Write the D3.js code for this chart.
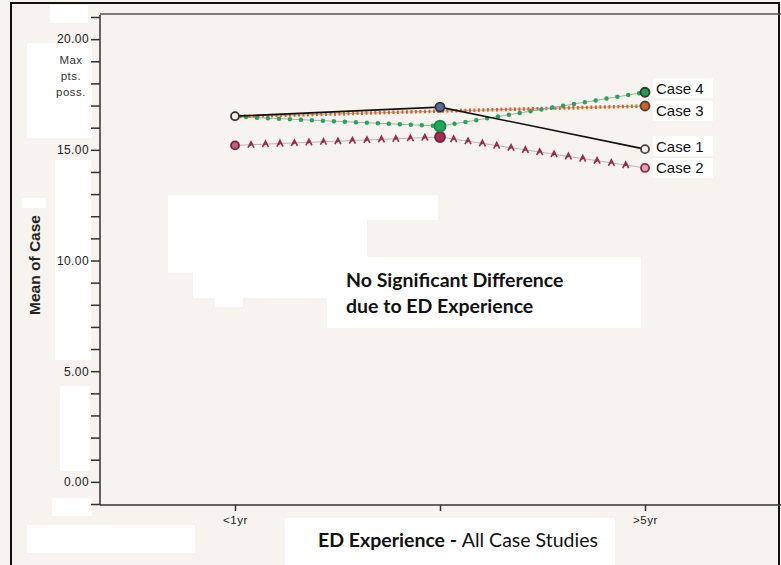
<!DOCTYPE html>
<html><head><meta charset="utf-8">
<script src="https://cdn.jsdelivr.net/npm/d3@7"></script>
<style>body{margin:0;background:#fff}svg{display:block}</style>
</head><body>
<svg id="c" width="781" height="565"></svg>
<script>
const categories = ["<1yr", "1-5yr", ">5yr"];
const tickLabels = ["<1yr", "", ">5yr"];
const seriesNames = ["Case 1", "Case 2", "Case 3", "Case 4"];
const case1 = [16.52, 16.93, 15.03];
const case2 = [15.2, 15.58, 14.18];
const case3 = [16.5, 16.75, 16.98];
const case4 = [16.5, 16.07, 17.6];
const yMajor = [0, 5, 10, 15, 20];

const svg = d3.select("#c");
svg.append("rect").attr("width",781).attr("height",565).attr("fill","#f7f3ee");

// white patches on the scanned page
const patches = [[50,5,38,18],[27,43,65,95],[55,160,36,200],[22,198,24,10],[58,340,32,18],[60,386,30,85],[52,498,40,18],[27,525,168,28],
  [168,195,270,25],[168,195,199,78],[193,273,134,25],[215,298,28,9]];
svg.selectAll("rect.patch").data(patches).join("rect").attr("class","patch")
  .attr("x",d=>d[0]).attr("y",d=>d[1]).attr("width",d=>d[2]).attr("height",d=>d[3]).attr("fill","#ffffff");

// outer frame
svg.append("rect").attr("x",11).attr("y",3).attr("width",768).attr("height",570)
  .attr("fill","none").attr("stroke","#111").attr("stroke-width",2);

const x = d3.scalePoint().domain(categories).range([235, 645]);
const y = d3.scaleLinear().domain([-1, 21]).range([504, 17]);

const font = "Liberation Sans, Arial, sans-serif";

// plot frame top line
svg.append("line").attr("x1",100).attr("x2",781).attr("y1",14).attr("y2",14).attr("stroke","#555").attr("stroke-width",1.5);

const yAxis = d3.axisLeft(y).tickValues(d3.range(-1, 22, 1)).tickSize(9)
  .tickFormat(d => yMajor.includes(d) ? d.toFixed(2) : "");
const gy = svg.append("g").attr("transform","translate(100,0)").call(yAxis);
gy.select(".domain").attr("d","M0,15V505").attr("stroke","#333").attr("stroke-width",1.5);
gy.selectAll(".tick line").attr("stroke","#333").attr("stroke-width",1.5);
gy.selectAll(".tick text").attr("font-family",font).attr("font-size",12).attr("letter-spacing",0.4).attr("fill","#222").attr("x",-11);

const xAxis = d3.axisBottom(x).tickSize(6).tickFormat((d,i)=>tickLabels[i]);
const gx = svg.append("g").attr("transform","translate(0,505)").call(xAxis);
gx.select(".domain").attr("d","M100,0H781").attr("stroke","#333").attr("stroke-width",1.5);
gx.selectAll(".tick line").attr("stroke","#333").attr("stroke-width",1.5);
gx.selectAll(".tick text").attr("font-family",font).attr("font-size",11.5).attr("letter-spacing",0.6).attr("fill","#222").attr("dy","0.85em");

// Max pts. poss.
const mp = svg.append("text").attr("font-family",font).attr("font-size",11.5).attr("letter-spacing",0.5).attr("fill","#333").attr("text-anchor","middle");
[["Max",64],["pts.",80],["poss.",96]].forEach(([t,yy])=>mp.append("tspan").attr("x",71).attr("y",yy).text(t));

// y title
svg.append("text").attr("transform","translate(40,265) rotate(-90)").attr("text-anchor","middle")
  .attr("font-family",font).attr("font-weight","bold").attr("font-size",15.5).attr("fill","#222").text("Mean of Case");

const line = d3.line().x((d,i)=>x(categories[i])).y(d=>y(d));

// Case 3 orange dashes
svg.append("path").attr("d",line(case3)).attr("fill","none").attr("stroke","#999").attr("stroke-width",0.8);
svg.append("path").attr("d",line(case3)).attr("fill","none").attr("stroke","#e0601e").attr("stroke-width",3.5).attr("stroke-dasharray","2 2.5");
// Case 4 green dots
svg.append("path").attr("d",line(case4)).attr("fill","none").attr("stroke","#999").attr("stroke-width",0.8);
svg.append("path").attr("d",line(case4)).attr("fill","none").attr("stroke","#1fa85a").attr("stroke-width",4.5).attr("stroke-linecap","round").attr("stroke-dasharray","0 11");
// Case 2 maroon crosses
svg.append("path").attr("d",line(case2)).attr("fill","none").attr("stroke","#aaa").attr("stroke-width",0.8);
const p2 = svg.append("path").attr("d",line(case2)).attr("fill","none").attr("stroke","none");
const node = p2.node(), L = node.getTotalLength();
const crossPos = d3.range(16, L-8, 14.5);
svg.selectAll("path.x2").data(crossPos).join("path").attr("class","x2")
  .attr("transform",d=>{const p=node.getPointAtLength(d);return `translate(${p.x},${p.y})`;})
  .attr("d","M-3,3L0,-3L3,3M-2,1L2,-1").attr("fill","none").attr("stroke","#9a2a4a").attr("stroke-width",1.6);
// Case 1 black solid
svg.append("path").attr("d",line(case1)).attr("fill","none").attr("stroke","#111").attr("stroke-width",1.6);

// markers
const markers = [
  {s:case1,i:0,fill:"#f4f0ee",stroke:"#333",r:4},
  {s:case1,i:1,fill:"#5a6a9a",stroke:"#333",r:4.5},
  {s:case1,i:2,fill:"#f4f0ee",stroke:"#444",r:4},
  {s:case2,i:0,fill:"#c06080",stroke:"#7a2040",r:4},
  {s:case2,i:1,fill:"#a03050",stroke:"#7a2040",r:5},
  {s:case2,i:2,fill:"#e0a0b0",stroke:"#8a2a4a",r:4},
  {s:case3,i:2,fill:"#d0602a",stroke:"#444",r:4.5},
  {s:case4,i:1,fill:"#1fa85a",stroke:"#1a8a4a",r:5.5},
  {s:case4,i:2,fill:"#2a9a5a",stroke:"#333",r:4.5}
];
svg.selectAll("circle.m").data(markers).join("circle").attr("class","m")
  .attr("cx",d=>x(categories[d.i])).attr("cy",d=>y(d.s[d.i])).attr("r",d=>d.r)
  .attr("fill",d=>d.fill).attr("stroke",d=>d.stroke).attr("stroke-width",1.8);

// series labels (dy = small vertical shift to keep labels apart)
const labels = [{n:seriesNames[3],v:case4[2],dy:-4},{n:seriesNames[2],v:case3[2],dy:5},{n:seriesNames[0],v:case1[2],dy:-3},{n:seriesNames[1],v:case2[2],dy:0}];
svg.selectAll("rect.lb").data(labels).join("rect").attr("class","lb")
  .attr("x",653).attr("y",d=>y(d.v)+d.dy-10).attr("width",60).attr("height",20).attr("fill","#fff");
svg.selectAll("text.lt").data(labels).join("text").attr("class","lt")
  .attr("x",656).attr("y",d=>y(d.v)+d.dy+5.5).attr("font-family",font).attr("font-size",15).attr("fill","#111").text(d=>d.n);

// annotation
svg.append("rect").attr("x",327).attr("y",257).attr("width",314).attr("height",71).attr("fill","#fff");
const an = svg.append("text").attr("font-family","Lato, 'Open Sans', sans-serif").attr("font-weight","bold").attr("font-size",19.5).attr("fill","#111");
an.append("tspan").attr("x",346).attr("y",287).text("No Significant Difference");
an.append("tspan").attr("x",346).attr("y",313).text("due to ED Experience");

// x title
svg.append("rect").attr("x",285).attr("y",518).attr("width",330).attr("height",47).attr("fill","#fff");
const xt = svg.append("text").attr("x",458).attr("y",547).attr("text-anchor","middle").attr("font-family","Lato, 'Open Sans', sans-serif").attr("font-size",19.5).attr("fill","#111");
xt.append("tspan").attr("font-weight","bold").text("ED Experience - ");
xt.append("tspan").text("All Case Studies");
</script>
</body></html>
